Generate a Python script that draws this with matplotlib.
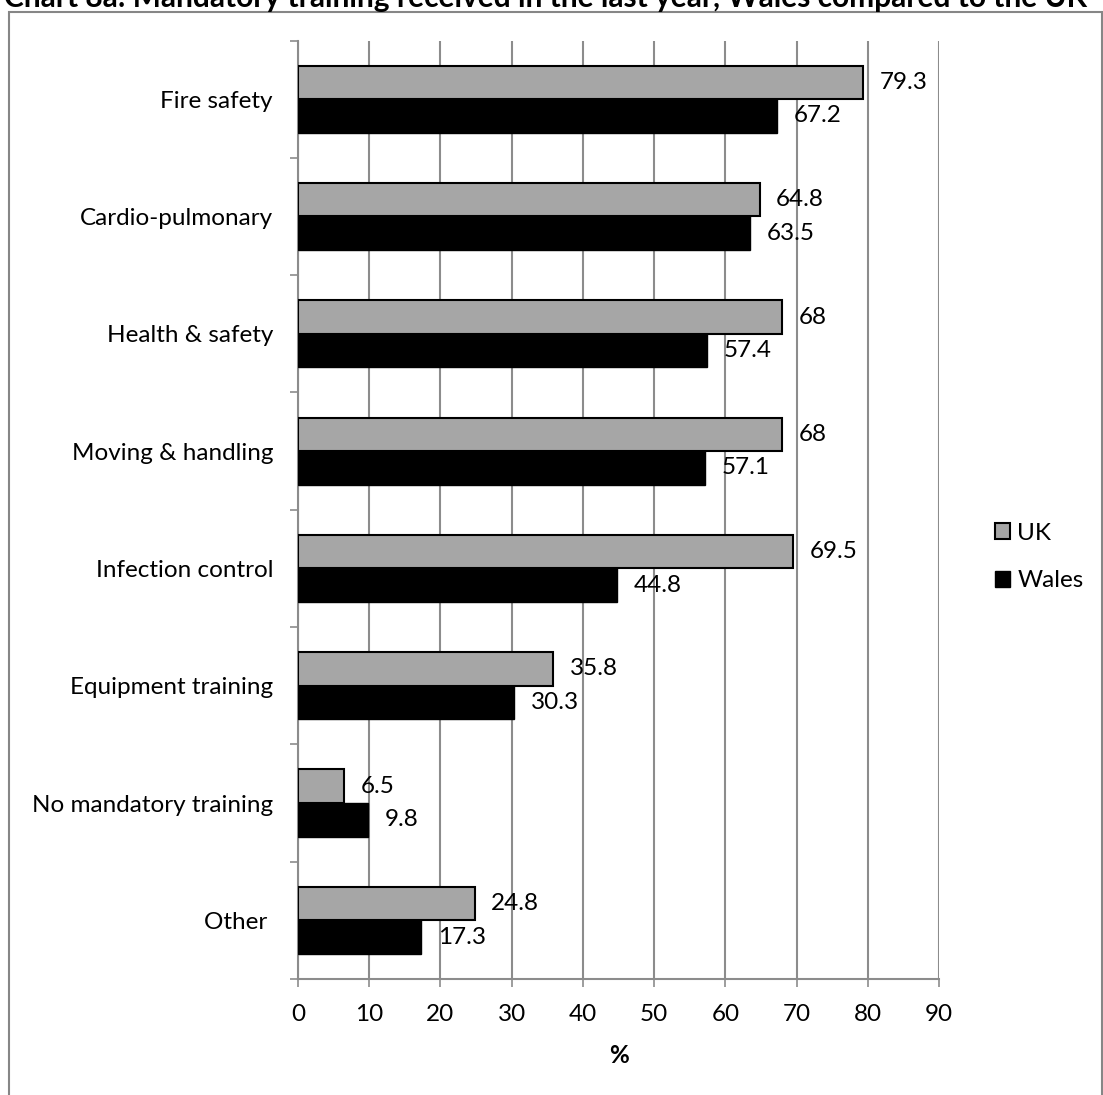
import numpy as np
import matplotlib
matplotlib.use("Agg")
import matplotlib.pyplot as plt
from matplotlib.patches import Rectangle

plt.rcParams['font.family'] = ['Lato', 'DejaVu Sans']

# data
categories = ['Fire safety', 'Cardio-pulmonary', 'Health & safety', 'Moving & handling',
              'Infection control', 'Equipment training', 'No mandatory training', 'Other ']
uk = [79.3, 64.8, 68, 68, 69.5, 35.8, 6.5, 24.8]
wales = [67.2, 63.5, 57.4, 57.1, 44.8, 30.3, 9.8, 17.3]
x_ticks = list(range(0, 100, 10))
title = 'Chart 8a: Mandatory training received in the last year, Wales compared to the UK'

W, H = 1103, 1095
fs = 17.5
fig = plt.figure(figsize=(W / 100, H / 100), dpi=100)

# outer chart border
fig.patches.append(Rectangle((9 / W, -0.05), 1093 / W, 1 - 12 / H + 0.05,
                             transform=fig.transFigure, fill=False,
                             edgecolor='#868686', linewidth=1.5))
fig.text(4 / W, 1 - 7 / H, title, fontsize=21.5, fontweight='bold', ha='left', va='baseline')

ax = fig.add_axes([298 / W, 1 - 979 / H, (939 - 298) / W, (979 - 40.5) / H])

y = np.arange(len(categories))
h = 0.286
grid_col = '#8c8c8c'
b_uk = ax.barh(y - h / 2, uk, height=h, color='#a6a6a6', edgecolor='black', linewidth=1.5, label='UK', zorder=3)
b_wa = ax.barh(y + h / 2, wales, height=h, color='black', edgecolor='black', linewidth=1, label='Wales', zorder=3)
ax.bar_label(b_uk, fmt='%g', padding=12, fontsize=fs)
ax.bar_label(b_wa, fmt='%g', padding=12, fontsize=fs)

ax.set_xlim(0, 90)
ax.set_ylim(len(categories) - 0.5, -0.5)
ax.set_xticks(x_ticks)
ax.set_xticklabels([str(t) for t in x_ticks], fontsize=fs)
ax.set_yticks(y)
ax.set_yticklabels(categories, fontsize=fs)
ax.set_yticks(np.arange(len(categories) + 1) - 0.5, minor=True)
ax.tick_params(axis='y', which='major', length=0, pad=18)
ax.tick_params(axis='y', which='minor', length=6, width=1.2, color=grid_col, direction='out')
ax.tick_params(axis='x', length=6, width=1.2, color=grid_col, direction='out', pad=12)
ax.xaxis.grid(True, color=grid_col, linewidth=1.5, zorder=0)
ax.set_axisbelow(True)
for s in ['top', 'right']:
    ax.spines[s].set_visible(False)
for s in ['left', 'bottom']:
    ax.spines[s].set_color(grid_col)
    ax.spines[s].set_linewidth(1.5)
ax.set_xlabel('%', fontsize=fs, fontweight='bold', labelpad=14)

fig.legend(handles=[b_uk, b_wa], labels=['UK', 'Wales'], loc='center left',
           bbox_to_anchor=(995 / W, 1 - 557 / H), frameon=False, fontsize=fs,
           borderpad=0, borderaxespad=0,
           handlelength=0.62, handleheight=0.62, handletextpad=0.3, labelspacing=1.1)

fig.savefig('out.png', dpi=100)
